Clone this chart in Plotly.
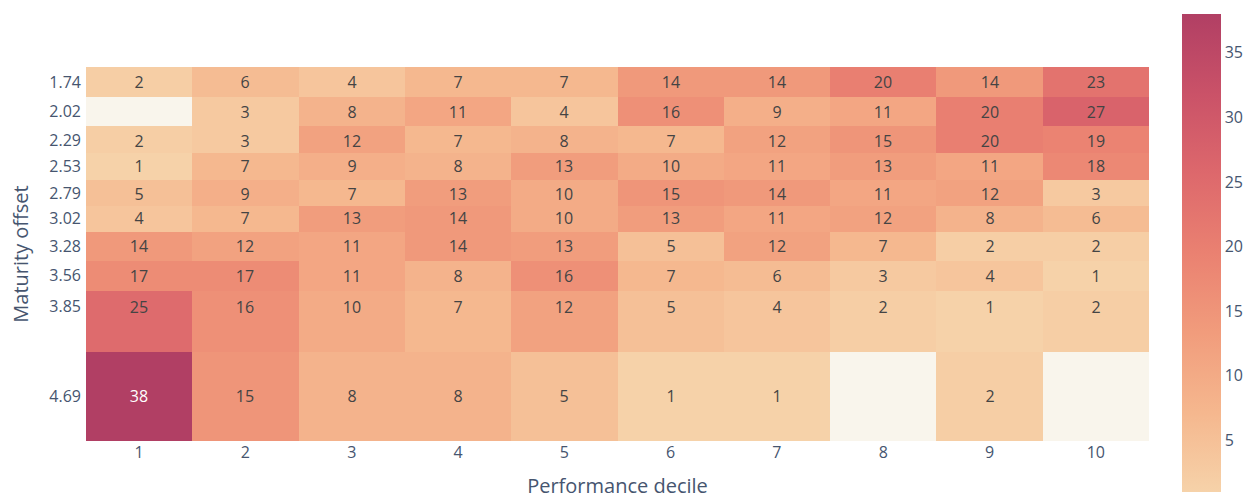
import math
import plotly.graph_objects as go

deciles = [1, 2, 3, 4, 5, 6, 7, 8, 9, 10]
offsets = [1.74, 2.02, 2.29, 2.53, 2.79, 3.02, 3.28, 3.56, 3.85, 4.69]
nan = float("nan")
counts = [
    [2, 6, 4, 7, 7, 14, 14, 20, 14, 23],
    [nan, 3, 8, 11, 4, 16, 9, 11, 20, 27],
    [2, 3, 12, 7, 8, 7, 12, 15, 20, 19],
    [1, 7, 9, 8, 13, 10, 11, 13, 11, 18],
    [5, 9, 7, 13, 10, 15, 14, 11, 12, 3],
    [4, 7, 13, 14, 10, 13, 11, 12, 8, 6],
    [14, 12, 11, 14, 13, 5, 12, 7, 2, 2],
    [17, 17, 11, 8, 16, 7, 6, 3, 4, 1],
    [25, 16, 10, 7, 12, 5, 4, 2, 1, 2],
    [38, 15, 8, 8, 5, 1, 1, nan, 2, nan],
]

z = [[None if (isinstance(v, float) and math.isnan(v)) else v for v in row] for row in counts]
text = [["" if v is None else str(v) for v in row] for row in z]

font_color = "#46556f"
W, H = 1248, 499
L, R, T, B = 86, 99, 67, 58
plot_h = H - T - B
plot_w = W - L - R

fig = go.Figure(
    go.Heatmap(
        x=deciles,
        y=offsets,
        z=z,
        text=text,
        texttemplate="%{text}",
        textfont=dict(size=16, family="Open Sans"),
        colorscale="Redor",
        colorbar=dict(
            thickness=39,
            lenmode="pixels",
            len=478,
            y=(H - B - 253) / plot_h,
            yanchor="middle",
            x=1 + (1182 - (W - R)) / plot_w,
            xanchor="left",
            xpad=0,
            ypad=0,
            outlinewidth=0,
            tickfont=dict(size=16, color=font_color),
        ),
        hoverongaps=False,
    )
)

fig.update_layout(
    width=W,
    height=H,
    margin=dict(l=L, r=R, t=T, b=B, autoexpand=False),
    paper_bgcolor="white",
    plot_bgcolor="#f9f5ec",
    font=dict(family="Open Sans", color=font_color, size=16),
)
fig.update_xaxes(
    title=dict(text="Performance decile", font=dict(size=20, color=font_color), standoff=18),
    tickvals=deciles,
    ticktext=[str(d) for d in deciles],
    showgrid=False,
    zeroline=False,
    tickfont=dict(size=16, color=font_color),
)
fig.update_yaxes(
    title=dict(text="Maturity offset", font=dict(size=20, color=font_color)),
    tickvals=offsets,
    ticktext=[f"{v:.2f}" for v in offsets],
    autorange="reversed",
    showgrid=False,
    zeroline=False,
    tickfont=dict(size=16, color=font_color),
    ticklabelstandoff=4,
)

fig.write_html(
    "out.html",
    config={"displayModeBar": False},
    post_script="document.body.style.margin='0';document.body.style.overflow='hidden';",
)
